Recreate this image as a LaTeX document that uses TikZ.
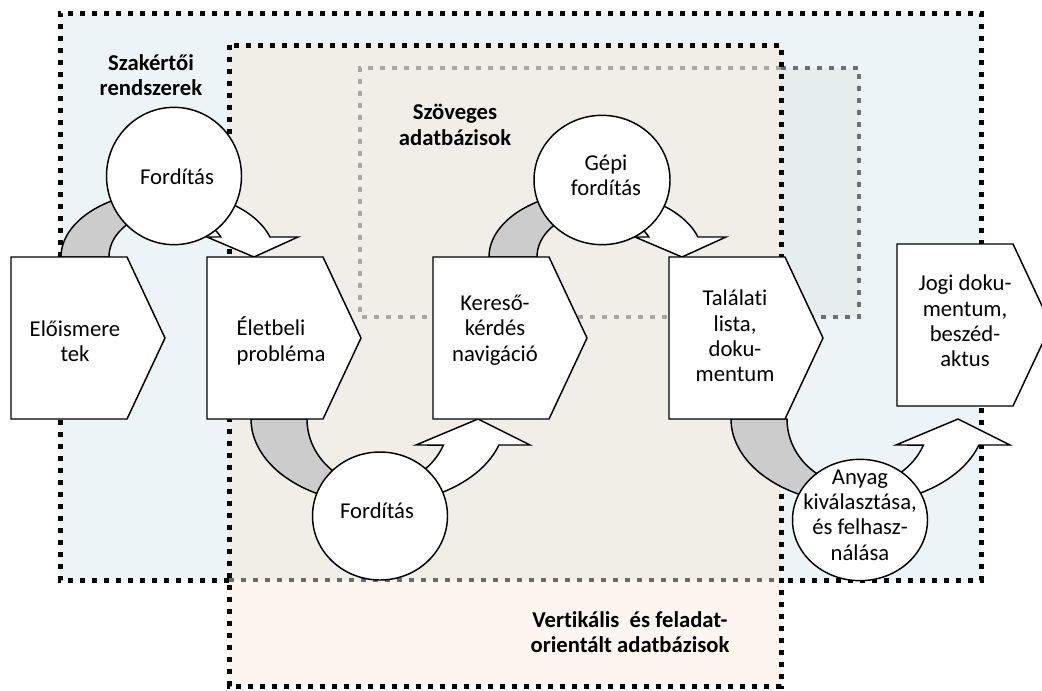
\documentclass[tikz,border=0pt]{standalone}
\usepackage{fontspec}
\setmainfont[Ligatures=NoCommon]{Carlito}
\usetikzlibrary{shapes.geometric}

\definecolor{expertfill}{RGB}{236,244,248}
\definecolor{textdbfill}{RGB}{229,238,236}
\definecolor{midfill}{RGB}{241,238,232}
\definecolor{vertfill}{RGB}{253,245,240}
\definecolor{banddark}{RGB}{204,204,204}
\definecolor{dotlight}{RGB}{170,167,162}
\definecolor{dotdark}{RGB}{108,112,116}
\definecolor{dotbrown}{RGB}{112,104,98}

\tikzset{
  blackdots/.style={line width=3.75pt, dash pattern=on 4pt off 5pt, draw=black},
  graydots/.style={line width=3pt, dash pattern=on 3.4pt off 5.6pt},
  outline/.style={draw=black, line width=1.1pt, line join=miter},
  chev/.style={outline, fill=white},
  bandback/.style={outline, fill=banddark},
  bandfront/.style={outline, fill=white},
  lbl/.style={align=center, inner sep=0pt, font=\fontsize{17}{19}\selectfont},
  title/.style={lbl, font=\fontsize{17}{19}\selectfont\bfseries},
  circ/.style={ellipse, outline, fill=white, inner sep=0pt},
  % pentagon box pointing right, origin at its top-left corner
  homeplate/.pic={
    \path[chev] (0,0) -- (116,0) -- (154,81) -- (116,162) -- (0,162) -- cycle;
  },
  % curved arrow bending over the top, origin at the outer edge of its tail
  overarrow/.pic={
    \path[bandback] (0,0)
      -- plot[domain=180:90, samples=40] ({107+107*cos(\x)},{-66*sin(\x)})
      -- (107,-45)
      -- plot[domain=90:180, samples=40] ({107+59*cos(\x)},{-45*sin(\x)})
      -- cycle;
    \path[bandfront] (107,-66)
      -- plot[domain=90:17.64, samples=40] ({107+107*cos(\x)},{-66*sin(\x)})
      -- (237,-20) -- (193,0) -- (146,-20)
      -- plot[domain=26.39:90, samples=40] ({107+59*cos(\x)},{-45*sin(\x)})
      -- cycle;
  },
  % curved arrow bending under the bottom, origin at the outer edge of its tail
  underarrow/.pic={
    \path[bandback] (0,0)
      -- plot[domain=180:90, samples=40] ({127+127*cos(\x)},{85*sin(\x)})
      -- (127,67)
      -- plot[domain=90:180, samples=40] ({127+71*cos(\x)},{67*sin(\x)})
      -- cycle;
    \path[bandfront] (127,85)
      -- plot[domain=90:17.8, samples=40] ({127+127*cos(\x)},{85*sin(\x)})
      -- (279,26) -- (227,0) -- (165,26)
      -- plot[domain=22.85:90, samples=40] ({127+71*cos(\x)},{67*sin(\x)})
      -- cycle;
  }
}

\begin{document}
\begin{tikzpicture}[x=0.75pt, y=-0.75pt]
  \useasboundingbox (0,0) rectangle (1042,690);

  % background regions
  \fill[expertfill] (60,13) rectangle (981,580);
  \fill[textdbfill] (360,68) rectangle (859,317);
  \fill[midfill] (229,45) rectangle (781,580);
  \fill[vertfill] (229,580) rectangle (781,686);

  % region borders
  \draw[blackdots] (229,580) -- (60,580) -- (60,13) -- (981,13) -- (981,580) -- (781,580);
  \draw[graydots, draw=dotlight] (781,68) -- (360,68) -- (360,317) -- (781,317);
  \draw[graydots, draw=dotdark] (781,68) -- (859,68) -- (859,317) -- (781,317);
  \draw[graydots, line width=3.5pt, draw=dotbrown] (229,580) -- (781,580);
  \draw[blackdots] (229,45) rectangle (781,686);

  % region titles
  \node[title] (tExpert) at (151,75) {Szakértői\\rendszerek};
  \node[title] (tText) at (455,125) {Szöveges\\adatbázisok};
  \node[title] (tVert) at (630,632) {Vertikális\ \ és feladat-\\orientált adatbázisok};

  % curved arrows
  \pic (a1) at (61,257) {overarrow};
  \pic (a2) at (489,257) {overarrow};
  \pic (a3) at (251,419) {underarrow};
  \pic (a4) at (731,419) {underarrow};

  % process steps
  \pic (p1) at (11,257) {homeplate};
  \pic (p2) at (207,257) {homeplate};
  \pic (p3) at (433,257) {homeplate};
  \pic (p4) at (669,257) {homeplate};
  \pic (p5) at (897,244) {homeplate};

  \node[lbl] (b1) at (75,341) {Előismere\\tek};
  \node[lbl, align=left] (b2) at (281,341) {Életbeli\\probléma};
  \node[lbl] (b3) at (495,330) {Kereső-\\kérdés\\navigáció};
  \node[lbl] (b4) at (735,336) {Találati\\lista,\\doku-\\mentum};
  \node[lbl] (b5) at (965,321) {Jogi doku-\\mentum,\\beszéd-\\aktus};

  % transformation circles
  \node[circ, minimum width=101.25pt, minimum height=103pt] (c1) at (174,176) {};
  \node[circ, minimum width=102pt, minimum height=97pt] (c2) at (602,180) {};
  \node[circ, minimum width=101.25pt, minimum height=96pt] (c3) at (380,516) {};
  \node[circ, minimum width=101.25pt, minimum height=91pt] (c4) at (860,520) {};

  \node[lbl] (c1t) at (177,177) {Fordítás};
  \node[lbl] (c2t) at (606,175) {Gépi\\fordítás};
  \node[lbl] (c3t) at (377,511) {Fordítás};
  \node[lbl] (c4t) at (860,515) {Anyag\\kiválasztása,\\és felhasz-\\nálása};
\end{tikzpicture}
\end{document}
